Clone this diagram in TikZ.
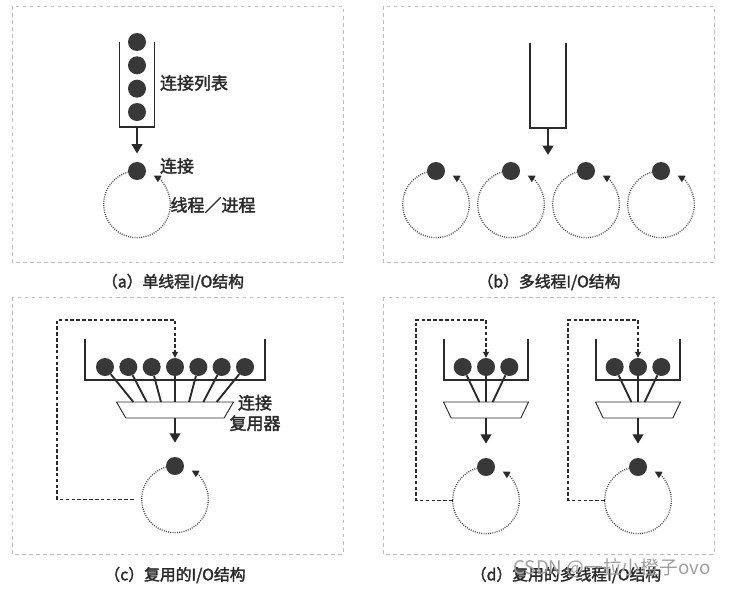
\documentclass[tikz,border=0pt]{standalone}
\usepackage{fontspec}
\newfontfamily\cjk[FakeBold=2]{Noto Sans CJK SC}
\newfontfamily\cjkmark{Noto Sans CJK SC}
\usepackage{tikz}
\usetikzlibrary{positioning, arrows.meta}
\definecolor{ink}{HTML}{2A2A2A}
\definecolor{ballgray}{HTML}{383838}
\definecolor{framegray}{HTML}{BDBDBD}
\definecolor{dotgray}{HTML}{444444}

\begin{document}
\begin{tikzpicture}[x=0.03cm, y=0.03cm, node distance=0.7cm, on grid,
      ball/.style={circle, fill=ballgray, inner sep=0pt, minimum size=0.54cm},
      ring/.style={circle, inner sep=0pt, outer sep=0pt, minimum size=2cm},
      trough/.style={inner sep=0pt, outer sep=0pt},
      muxbox/.style={inner sep=0pt, outer sep=0pt, minimum height=0.48cm},
      mux/.style={draw=ink, line width=0.8pt, line join=miter},
      wall/.style={draw=ink, line width=1.1pt},
      flow/.style={-{Triangle[length=8pt, width=9pt]}, draw=ink, line width=1.8pt},
      spoke/.style={draw=ink, line width=1.6pt},
      thread/.style={draw=dotgray, line width=1.1pt, dash pattern=on 0.8pt off 1.1pt,
                     -{Triangle[length=6pt, width=6pt, color=ink]}},
      feed/.style={draw=ink, line width=0.9pt, dash pattern=on 3pt off 2pt,
                   -{Triangle[length=5pt, width=5pt]}},
      frame/.style={draw=framegray, line width=0.6pt, dash pattern=on 3pt off 3pt},
      lbl/.style={font=\cjk\fontsize{14.5}{17.5}\selectfont, text=ink, inner sep=0pt, align=center},
      subcap/.style={font=\cjk\fontsize{13.5}{16}\selectfont, text=ink, inner sep=0pt},
      wmark/.style={font=\cjkmark\fontsize{16}{18}\selectfont, text=gray!75, inner sep=0pt}]
      \useasboundingbox (0,0) rectangle (731,-589);
      % frames
      \draw[frame] (12,-6) rectangle (343,-262);
      \draw[frame] (383,-6) rectangle (714,-262);
      \draw[frame] (12,-297) rectangle (343,-554);
      \draw[frame] (383,-297) rectangle (714,-554);

      % (a) single thread
      \node[trough, minimum width=1.05cm, minimum height=2.55cm] (qa) at (137,-84.5) {};
      \draw[wall] (qa.north west) |- (qa.south east) -- (qa.north east);
      \node[ball] (a1) at (137,-42) {};
      \node[ball, below=of a1] (a2) {};
      \node[ball, below=of a2] (a3) {};
      \node[ball, below=of a3] (a4) {};
      \node[ball] (ca) at (137,-171) {};
      \node[ring, below=1cm of ca] (ra) {};
      \draw[thread] (ra.105) arc[start angle=105, end angle=420, radius=1cm];
      \path (qa.south) edge[flow, shorten >=7pt] (ca);
      \node[lbl] (la1) at (194,-83) {连接列表};
      \node[lbl] (la2) at (177,-166) {连接};
      \node[lbl] (la3) at (213,-205) {线程／进程};
      \node[subcap] (capa) at (173,-282) {（a）单线程I/O结构};

      % (b) multi thread
      \node[trough, minimum width=1.08cm, minimum height=2.55cm] (qb) at (548,-85.5) {};
      \draw[wall] (qb.north west) |- (qb.south east) -- (qb.north east);
      \coordinate (bt) at (548,-155);
      \path (qb.south) edge[flow] (bt);
      \node[ball] (b1) at (436,-171) {};
      \node[ball, right=2.25cm of b1] (b2) {};
      \node[ball, right=2.25cm of b2] (b3) {};
      \node[ball, right=2.25cm of b3] (b4) {};
      \node[ring, below=1cm of b1] (rb1) {};
      \node[ring, below=1cm of b2] (rb2) {};
      \node[ring, below=1cm of b3] (rb3) {};
      \node[ring, below=1cm of b4] (rb4) {};
      \draw[thread] (rb1.105) arc[start angle=105, end angle=420, radius=1cm];
      \draw[thread] (rb2.105) arc[start angle=105, end angle=420, radius=1cm];
      \draw[thread] (rb3.105) arc[start angle=105, end angle=420, radius=1cm];
      \draw[thread] (rb4.105) arc[start angle=105, end angle=420, radius=1cm];
      \node[subcap] (capb) at (549,-282) {（b）多线程I/O结构};

      % (c) multiplexed
      \node[trough, minimum width=5.4cm, minimum height=1.23cm] (qc) at (175,-359.5) {};
      \draw[wall] (qc.north west) |- (qc.south east) -- (qc.north east);
      \node[ball] (c4) at (175,-367) {};
      \node[ball, left=of c4] (c3) {};
      \node[ball, left=of c3] (c2) {};
      \node[ball, left=of c2] (c1) {};
      \node[ball, right=of c4] (c5) {};
      \node[ball, right=of c5] (c6) {};
      \node[ball, right=of c6] (c7) {};
      \node[muxbox, minimum width=3.51cm] (mc) at (175,-410) {};
      \draw[mux] (mc.north west) -- (mc.north east) -- ([xshift=-0.28cm]mc.south east)
            -- ([xshift=0.28cm]mc.south west) -- cycle;
      \path (c1) edge[spoke] ([xshift=-1.25cm]mc.north)
            (c2) edge[spoke] ([xshift=-0.85cm]mc.north)
            (c3) edge[spoke] ([xshift=-0.42cm]mc.north)
            (c4) edge[spoke] (mc.north)
            (c5) edge[spoke] ([xshift=0.42cm]mc.north)
            (c6) edge[spoke] ([xshift=0.85cm]mc.north)
            (c7) edge[spoke] ([xshift=1.25cm]mc.north);
      \node[ball] (cc) at (175,-466) {};
      \node[ring, below=1cm of cc] (rc) {};
      \draw[thread] (rc.105) arc[start angle=105, end angle=420, radius=1cm];
      \path (mc.south) edge[flow, shorten >=12pt] (cc);
      \coordinate (fc) at (57,-320);
      \draw[feed] ([xshift=-0.24cm]rc.west) -| (fc) -| (c4);
      \node[lbl] (lc) at (255,-413) {连接\\复用器};
      \node[subcap] (capc) at (175,-575) {（c）复用的I/O结构};

      % (d) multiplexed, two threads
      \node[trough, minimum width=2.52cm, minimum height=1.23cm] (qdl) at (486,-359.5) {};
      \draw[wall] (qdl.north west) |- (qdl.south east) -- (qdl.north east);
      \node[ball] (dl2) at (486,-367) {};
      \node[ball, left=of dl2] (dl1) {};
      \node[ball, right=of dl2] (dl3) {};
      \node[muxbox, minimum width=2.55cm] (mdl) at (486,-410) {};
      \draw[mux] (mdl.north west) -- (mdl.north east) -- ([xshift=-0.23cm]mdl.south east)
            -- ([xshift=0.23cm]mdl.south west) -- cycle;
      \path (dl1) edge[spoke] ([xshift=-0.2cm]mdl.north)
            (dl2) edge[spoke] (mdl.north)
            (dl3) edge[spoke] ([xshift=0.2cm]mdl.north);
      \node[ball] (cdl) at (486,-467) {};
      \node[ring, below=1cm of cdl] (rdl) {};
      \draw[thread] (rdl.105) arc[start angle=105, end angle=420, radius=1cm];
      \path (mdl.south) edge[flow, shorten >=12pt] (cdl);
      \coordinate (fdl) at (416,-320);
      \draw[feed] (rdl.west) -| (fdl) -| (dl2);

      \node[trough, minimum width=2.52cm, minimum height=1.23cm] (qdr) at (638,-359.5) {};
      \draw[wall] (qdr.north west) |- (qdr.south east) -- (qdr.north east);
      \node[ball] (dr2) at (638,-367) {};
      \node[ball, left=of dr2] (dr1) {};
      \node[ball, right=of dr2] (dr3) {};
      \node[muxbox, minimum width=2.55cm] (mdr) at (638,-410) {};
      \draw[mux] (mdr.north west) -- (mdr.north east) -- ([xshift=-0.23cm]mdr.south east)
            -- ([xshift=0.23cm]mdr.south west) -- cycle;
      \path (dr1) edge[spoke] ([xshift=-0.2cm]mdr.north)
            (dr2) edge[spoke] (mdr.north)
            (dr3) edge[spoke] ([xshift=0.2cm]mdr.north);
      \node[ball] (cdr) at (638,-467) {};
      \node[ring, below=1cm of cdr] (rdr) {};
      \draw[thread] (rdr.105) arc[start angle=105, end angle=420, radius=1cm];
      \path (mdr.south) edge[flow, shorten >=12pt] (cdr);
      \coordinate (fdr) at (568,-320);
      \draw[feed] (rdr.west) -| (fdr) -| (dr2);
      \node[subcap] (capd) at (566,-575) {（d）复用的多线程I/O结构};
      \node[wmark] (wm) at (612,-568) {CSDN @一拉小橙子ovo};
\end{tikzpicture}
\end{document}
